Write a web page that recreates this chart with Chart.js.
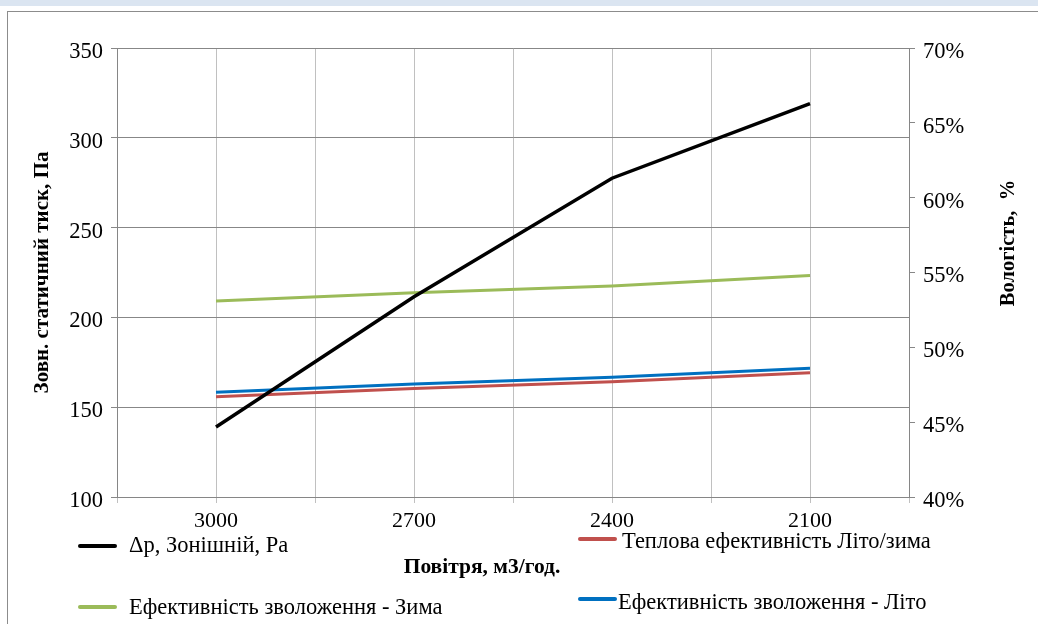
<!DOCTYPE html>
<html>
<head>
<meta charset="utf-8">
<script src="https://cdn.jsdelivr.net/npm/chart.js@4"></script>
<style>
  html, body { margin: 0; padding: 0; background: #fff; width: 1038px; height: 624px; overflow: hidden; }
  #band { position: absolute; left: 0; top: 0; width: 1038px; height: 6px; background: #dbe5f1; }
  #frame { position: absolute; left: 7px; top: 11px; width: 1040px; height: 620px; border-left: 1px solid #8c8c8c; border-top: 1px solid #8c8c8c; }
  #wrap { position: absolute; left: 0; top: 0; width: 1038px; height: 624px; }
</style>
</head>
<body>
<div id="band"></div>
<div id="frame"></div>
<div id="wrap"><canvas id="c" width="1038" height="624"></canvas></div>
<script>
const categories = ['3000', '2700', '2400', '2100'];
const pressure = [139, 211.5, 277.5, 319];
const heatEff = [46.7, 47.25, 47.7, 48.3];
const humWinter = [53.1, 53.65, 54.1, 54.8];
const humSummer = [47.0, 47.55, 48.0, 48.6];
const leftTicks = [100, 150, 200, 250, 300, 350];
const rightTicks = [40, 45, 50, 55, 60, 65, 70];

const seriesNames = ['Δp, Зонішній, Ра', 'Теплова ефективність Літо/зима', 'Ефективність зволоження - Зима', 'Ефективність зволоження - Літо'];
const colors = ['#000000', '#c0504d', '#9bbb59', '#0070c0'];

const toPts = arr => arr.map((v, i) => ({ x: i, y: v }));
const SERIF = '"Liberation Serif", "Times New Roman", serif';

const overlay = {
  id: 'overlay',
  afterDraw(chart) {
    const ctx = chart.ctx;
    ctx.save();
    const items = [
      { i: 0, lx: 80, ly: 546, tx: 129, by: 552 },
      { i: 1, lx: 580, ly: 539, tx: 622, by: 548 },
      { i: 2, lx: 80, ly: 607, tx: 129, by: 614 },
      { i: 3, lx: 580, ly: 599, tx: 618, by: 609 }
    ];
    ctx.font = '22.5px ' + SERIF;
    ctx.textBaseline = 'alphabetic';
    ctx.textAlign = 'left';
    items.forEach(it => {
      ctx.strokeStyle = colors[it.i];
      ctx.lineWidth = 4;
      ctx.lineCap = 'round';
      ctx.beginPath();
      ctx.moveTo(it.lx, it.ly);
      ctx.lineTo(it.lx + 35, it.ly);
      ctx.stroke();
      ctx.fillStyle = '#000';
      ctx.fillText(seriesNames[it.i], it.tx, it.by);
    });
    ctx.font = 'bold 21.5px ' + SERIF;
    ctx.textAlign = 'center';
    ctx.fillText('Повітря, м3/год.', 482, 573);
    ctx.font = 'bold 20.5px ' + SERIF;
    ctx.translate(1014, 243);
    ctx.rotate(-Math.PI / 2);
    ctx.fillText('Вологість,  %', 0, 0);
    ctx.restore();
  }
};

new Chart(document.getElementById('c'), {
  type: 'line',
  data: {
    datasets: [
      { label: seriesNames[0], data: toPts(pressure), yAxisID: 'y', borderColor: colors[0], borderWidth: 3.5 },
      { label: seriesNames[1], data: toPts(heatEff), yAxisID: 'y2', borderColor: colors[1] },
      { label: seriesNames[2], data: toPts(humWinter), yAxisID: 'y2', borderColor: colors[2] },
      { label: seriesNames[3], data: toPts(humSummer), yAxisID: 'y2', borderColor: colors[3] }
    ]
  },
  options: {
    responsive: false,
    animation: false,
    layout: { padding: { left: 0, right: 0, top: 48, bottom: 87 } },
    elements: {
      line: { borderWidth: 3, tension: 0, borderCapStyle: 'butt' },
      point: { radius: 0, hoverRadius: 0 }
    },
    plugins: { legend: { display: false }, tooltip: { enabled: false } },
    scales: {
      x: {
        type: 'linear',
        min: -0.5, max: 3.5,
        afterFit: s => { s.height = 40; },
        afterBuildTicks: s => { s.ticks = []; for (let v = -0.5; v <= 3.5001; v += 0.5) s.ticks.push({ value: v }); },
        ticks: {
          autoSkip: false, maxRotation: 0, padding: 5,
          font: { family: SERIF, size: 22 }, color: '#000',
          callback: v => Number.isInteger(v) ? categories[v] : ''
        },
        grid: { color: '#c0c0c0', lineWidth: 1, tickLength: 6, drawTicks: true },
        border: { color: '#868686', width: 1 }
      },
      y: {
        position: 'left',
        min: 100, max: 350,
        afterFit: s => { s.width = 117; },
        afterBuildTicks: s => { s.ticks = leftTicks.map(v => ({ value: v })); },
        ticks: { padding: 8, labelOffset: 4, font: { family: SERIF, size: 22.5 }, color: '#000' },
        grid: { color: '#878787', lineWidth: 1, tickLength: 6 },
        border: { color: '#868686', width: 1 },
        title: {
          display: true, text: 'Зовн. статичний тиск, Па', color: '#000',
          font: { family: SERIF, size: 21, weight: 'bold' },
          padding: { top: 30, bottom: 0 }
        }
      },
      y2: {
        position: 'right',
        min: 40, max: 70,
        afterFit: s => { s.width = 129; },
        afterBuildTicks: s => { s.ticks = rightTicks.map(v => ({ value: v })); },
        ticks: { padding: 8, labelOffset: 4, font: { family: SERIF, size: 22.5 }, color: '#000', callback: v => v + '%' },
        grid: { drawOnChartArea: false, color: '#878787', lineWidth: 1, tickLength: 6 },
        border: { color: '#868686', width: 1 }
      }
    }
  },
  plugins: [overlay]
});
</script>
</body>
</html>
